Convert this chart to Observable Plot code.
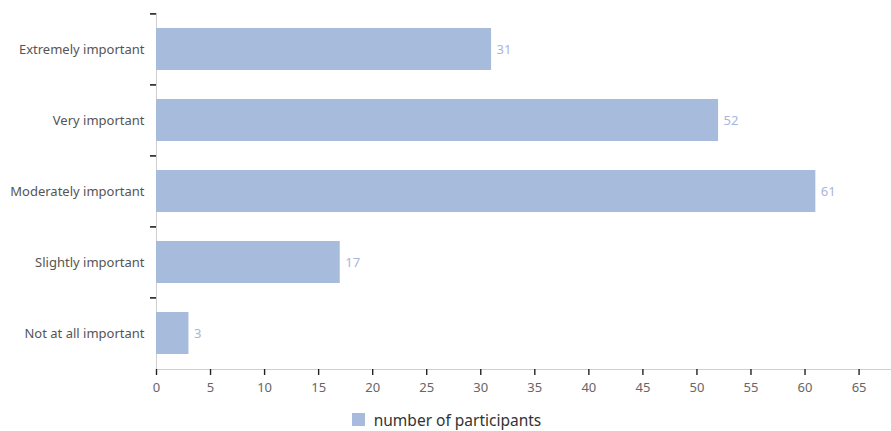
<!DOCTYPE html>
<html>
<head>
<meta charset="utf-8">
<script src="https://cdn.jsdelivr.net/npm/d3@7"></script>
<script src="https://cdn.jsdelivr.net/npm/@observablehq/plot@0.6"></script>
<style>
  body { margin: 0; background: #fff; font-family: "Noto Sans", sans-serif; }
  #legend { display: flex; justify-content: center; align-items: center; height: 31px; padding-top: 4px; font-size: 15.5px; color: #333; }
  #legend .sw { width: 13px; height: 13px; background: #a7bcdc; margin-right: 9px; margin-left: 2px; }
</style>
</head>
<body>
<div id="chart"></div>
<div id="legend"><span class="sw"></span><span>number of participants</span></div>
<script>
const categories = ["Extremely important", "Very important", "Moderately important", "Slightly important", "Not at all important"];
const values = [31, 52, 61, 17, 3];
const xTicks = [0, 5, 10, 15, 20, 25, 30, 35, 40, 45, 50, 55, 60, 65];
const seriesName = "number of participants";

const data = categories.map((c, i) => ({category: c, value: values[i]}));
const barColor = "#a7bcdc";

const plot = Plot.plot({
  width: 891,
  height: 400,
  marginLeft: 156,
  marginRight: 0,
  marginTop: 13,
  marginBottom: 31,
  style: {fontFamily: "Noto Sans, sans-serif", fontSize: "13px", color: "#555"},
  x: {domain: [0, 68]},
  y: {domain: categories, paddingInner: 0.41, paddingOuter: 0.205},
  marks: [
    Plot.frame({anchor: "bottom", stroke: "#cfcfcf"}),
    Plot.frame({anchor: "left", stroke: "#cfcfcf"}),
    Plot.barX(data, {y: "category", x: "value", fill: barColor}),
    Plot.text(data, {y: "category", x: "value", text: d => String(d.value), textAnchor: "start", dx: 5, fill: "#a9b4dc", fontSize: 13}),
    Plot.axisY({tickSize: 0, tickPadding: 12, label: null, fill: "#555", fontSize: 13}),
    Plot.axisY({tickSize: 6, tickPadding: 0, text: null, dy: -35.6, stroke: "#222", strokeWidth: 1.6, label: null}),
    Plot.axisX({ticks: xTicks, tickSize: 6, tickPadding: 7, stroke: "#222", strokeWidth: 1.4, fill: "#666", fontSize: 13, label: null, tickFormat: d => String(d)})
  ]
});
document.getElementById("chart").appendChild(plot);
</script>
</body>
</html>
